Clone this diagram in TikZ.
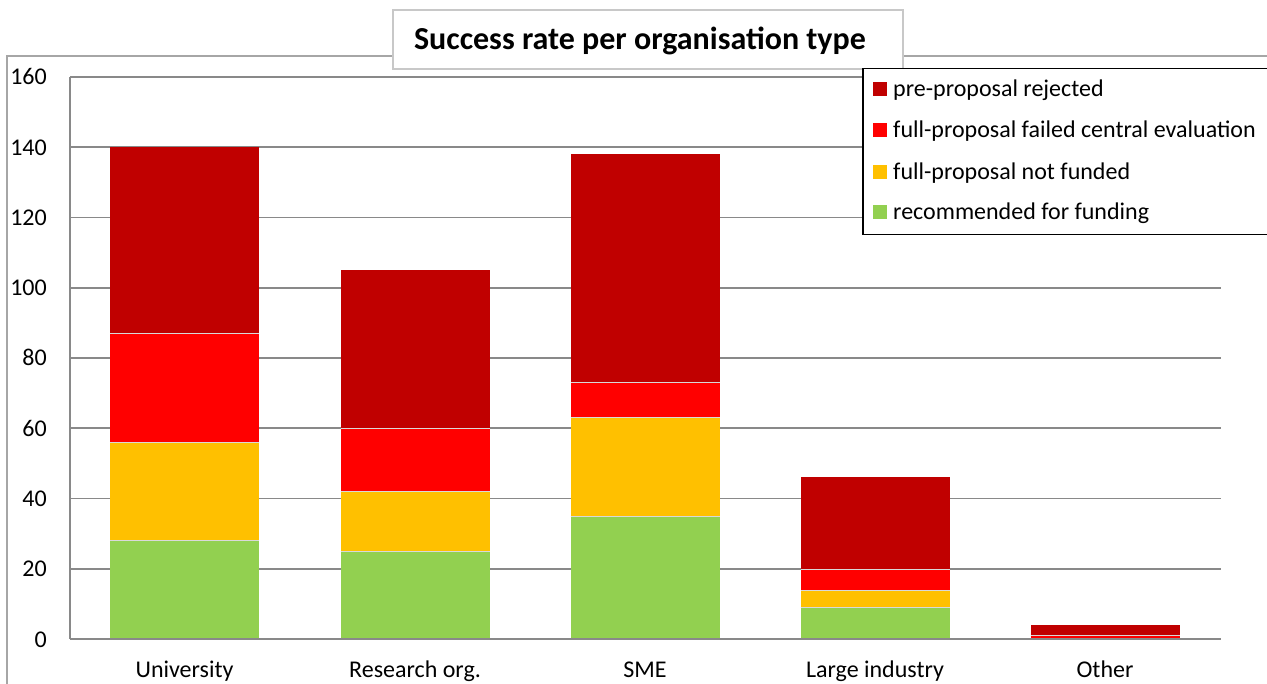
\documentclass[tikz,border=0pt]{standalone}
\usepackage{fontspec}
\setmainfont{Carlito}
\definecolor{cdark}{HTML}{C00000}
\definecolor{cred}{HTML}{FF0000}
\definecolor{cyel}{HTML}{FFC000}
\definecolor{cgreen}{HTML}{92D050}
\definecolor{gridc}{HTML}{898989}
\definecolor{framec}{HTML}{A6A6A6}
\definecolor{titlec}{HTML}{C8C8C8}
\tikzset{
  lbl/.style={font=\fontsize{24}{28}\selectfont, inner sep=0pt},
  ticklbl/.style={lbl, anchor=base east},
  catlbl/.style={lbl, anchor=base},
  gridline/.style={draw=gridc, line width=1.6pt},
  seg/.style={draw=white!85!black, line width=0.5pt},
  legsq/.style={minimum size=14pt, inner sep=0pt, draw=none},
}
\begin{document}
\begin{tikzpicture}[x=1pt,y=-1pt]
\useasboundingbox (0,0) rectangle (1267,684);
% outer chart frame
\draw[framec, line width=1.5pt] (7,700) -- (7,56) -- (1280,56);
% gridlines
\foreach \v in {0,20,...,160} {
  \draw[gridline] (70,{639-\v*3.5125}) -- (1221,{639-\v*3.5125});
  \node[ticklbl] (t\v) at (47,{647-\v*3.5125}) {\v};
}
\draw[gridline] (70,77) -- (70,639);
% bars: center, green, yellow, red, total
\foreach \c/\g/\yy/\r/\t in {184.5/28/56/87/140, 415/25/42/60/105, 645/35/63/73/138, 875/9/14/20/46, 1105/0/0/1/4} {
  \fill[cgreen] ({\c-74.5},639) rectangle ({\c+74.5},{639-\g*3.5125});
  \fill[cyel] ({\c-74.5},{639-\g*3.5125}) rectangle ({\c+74.5},{639-\yy*3.5125});
  \fill[cred] ({\c-74.5},{639-\yy*3.5125}) rectangle ({\c+74.5},{639-\r*3.5125});
  \fill[cdark] ({\c-74.5},{639-\r*3.5125}) rectangle ({\c+74.5},{639-\t*3.5125});
  \draw[seg] ({\c-74.5},{639-\g*3.5125}) -- ({\c+74.5},{639-\g*3.5125});
  \draw[seg] ({\c-74.5},{639-\yy*3.5125}) -- ({\c+74.5},{639-\yy*3.5125});
  \draw[seg] ({\c-74.5},{639-\r*3.5125}) -- ({\c+74.5},{639-\r*3.5125});
}
\draw[gridline] (70,639) -- (1221,639);
% category labels
\node[catlbl] (c1) at (184.5,677) {University};
\node[catlbl] (c2) at (415,677) {Research org.};
\node[catlbl] (c3) at (645,677) {SME};
\node[catlbl] (c4) at (875,677) {Large industry};
\node[catlbl] (c5) at (1105,677) {Other};
% title
\node[draw=titlec, line width=1.8pt, fill=white, minimum width=510pt, minimum height=59pt, inner sep=0pt] (title) at (648,39.5) {};
\node[font=\fontsize{32}{36}\selectfont\bfseries, inner sep=0pt, anchor=base] (titletext) at (640,50) {Success rate per organisation type};
% legend
\node[draw=black, line width=1.5pt, fill=white, minimum width=420pt, minimum height=166pt, inner sep=0pt, anchor=north west] (legend) at (862,68) {};
\node[legsq, fill=cdark] (l1) at (880,89) {};
\node[legsq, fill=cred] (l2) at (880,130) {};
\node[legsq, fill=cyel] (l3) at (880,172) {};
\node[legsq, fill=cgreen] (l4) at (880,212) {};
\node[lbl, anchor=base west] (lt1) at (893,97) {pre-proposal rejected};
\node[lbl, anchor=base west] (lt2) at (893,138) {full-proposal failed central evaluation};
\node[lbl, anchor=base west] (lt3) at (893,180) {full-proposal not funded};
\node[lbl, anchor=base west] (lt4) at (893,220) {recommended for funding};
\end{tikzpicture}
\end{document}
